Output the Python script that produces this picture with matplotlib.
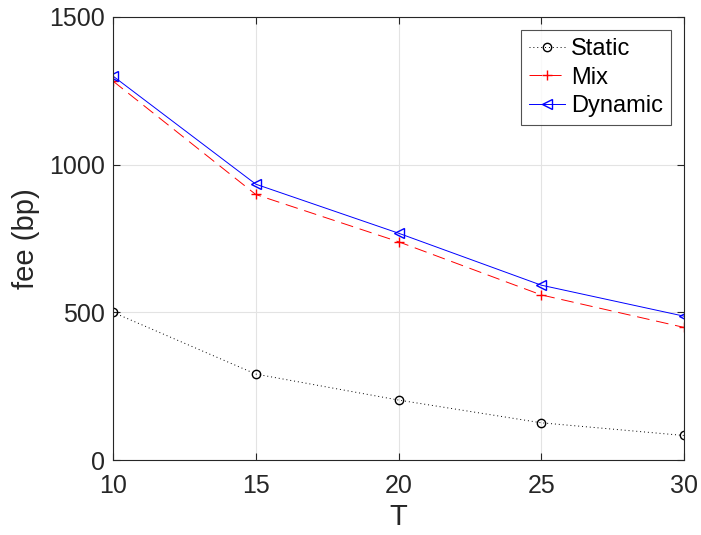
import matplotlib
matplotlib.use("Agg")
import matplotlib.pyplot as plt

# Dados
T = [10, 15, 20, 25, 30]
static = [500, 291, 203, 126, 83]
mix = [1283, 899, 739, 559, 449]
dynamic = [1300, 934, 768, 592, 487]

plt.rcParams['font.family'] = ['Liberation Sans', 'DejaVu Sans']

fig = plt.figure(figsize=(7.01, 5.35), dpi=100)
ax = fig.add_axes([113/701, 1 - 460/535, 571/701, 443/535])

ax.plot(T, static, color='k', linestyle=(0, (1, 3)), linewidth=0.7, marker='o',
        markersize=6, markerfacecolor='none', markeredgewidth=1, label='Static')
ax.plot(T, mix, color='r', linestyle=(0, (13, 7)), linewidth=0.7, marker='+',
        markersize=7, markeredgewidth=1, label='Mix')
ax.plot(T, dynamic, color='b', linestyle='-', linewidth=0.7, marker='<',
        markersize=7, markerfacecolor='none', markeredgewidth=1, label='Dynamic')

ax.set_xlim(10, 30)
ax.set_ylim(0, 1500)
ax.set_xticks(T)
ax.set_yticks([0, 500, 1000, 1500])
ax.grid(True, color='#e3e3e3', linewidth=0.8)
ax.set_axisbelow(True)

for s in ax.spines.values():
    s.set_color('#262626')
    s.set_linewidth(0.8)
ax.tick_params(direction='in', top=True, right=True, length=5, width=0.8,
               colors='#262626', labelsize=18)
ax.tick_params(axis='x', pad=10)
ax.tick_params(axis='y', pad=6)
for lab in ax.get_xticklabels() + ax.get_yticklabels():
    lab.set_color('#262626')

ax.set_xlabel('T', fontsize=21, color='#262626', labelpad=4)
ax.set_ylabel('fee (bp)', fontsize=21, color='#262626', labelpad=6)

leg = ax.legend(loc='upper right', fontsize=17, frameon=True, fancybox=False,
                edgecolor='#262626', handlelength=1.55, handletextpad=0.25,
                borderpad=0.33, labelspacing=0.29, borderaxespad=0.55, markerscale=1)
leg.get_frame().set_linewidth(0.8)

fig.savefig('out.png', dpi=100)
